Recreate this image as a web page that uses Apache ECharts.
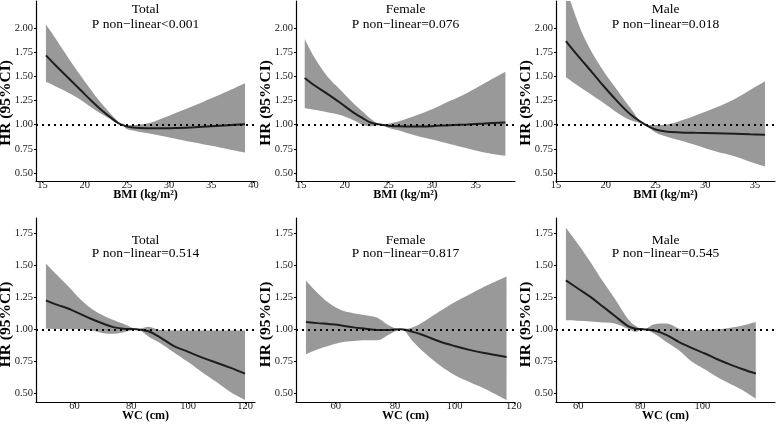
<!DOCTYPE html>
<html><head><meta charset="utf-8">
<script src="https://cdn.jsdelivr.net/npm/echarts@6/dist/echarts.min.js"></script>
<style>html,body{margin:0;padding:0;background:#fff}#c{width:777px;height:429px}</style>
</head><body><div id="c"></div>
<script>
// ---------- DATA ----------
// BMI – Total
const bmiTotalX     = [15.4, 16.5, 18, 19.5, 21, 22, 23, 24, 24.4, 25, 26, 27.5, 29, 31, 33, 35, 37, 39];
const bmiTotalHR    = [1.72, 1.62, 1.49, 1.36, 1.23, 1.15, 1.08, 1.015, 1.00, 0.982, 0.968, 0.963, 0.962, 0.966, 0.973, 0.983, 0.994, 1.005];
const bmiTotalUpper = [2.04, 1.90, 1.70, 1.51, 1.33, 1.22, 1.12, 1.03, 1.00, 0.995, 0.998, 1.015, 1.06, 1.13, 1.20, 1.275, 1.35, 1.43];
const bmiTotalLower = [1.445, 1.40, 1.335, 1.26, 1.165, 1.11, 1.06, 1.005, 1.00, 0.955, 0.935, 0.91, 0.885, 0.85, 0.815, 0.78, 0.745, 0.71];
// BMI – Female
const bmiFemaleX     = [15.4, 16.5, 18, 19.5, 21, 22, 23, 24.2, 25, 26, 28, 30, 32, 34, 36, 38.4];
const bmiFemaleHR    = [1.486, 1.41, 1.32, 1.225, 1.125, 1.07, 1.02, 1.0, 0.99, 0.983, 0.98, 0.985, 0.995, 1.003, 1.012, 1.024];
const bmiFemaleUpper = [1.89, 1.70, 1.50, 1.36, 1.22, 1.14, 1.06, 1.0, 1.01, 1.03, 1.09, 1.16, 1.245, 1.33, 1.43, 1.55];
const bmiFemaleLower = [1.17, 1.155, 1.13, 1.10, 1.045, 1.0, 0.985, 1.0, 0.965, 0.945, 0.89, 0.845, 0.80, 0.755, 0.71, 0.675];
// BMI – Male
const bmiMaleX     = [16, 17, 18, 19.5, 21, 22.5, 24, 25, 26, 27.5, 29, 31, 33, 34.5, 36];
const bmiMaleHR    = [1.868, 1.74, 1.62, 1.435, 1.26, 1.105, 0.998, 0.95, 0.93, 0.92, 0.915, 0.91, 0.905, 0.90, 0.896];
const bmiMaleUpper = [2.42, 2.12, 1.87, 1.60, 1.38, 1.17, 1.0, 0.998, 1.0, 1.04, 1.095, 1.175, 1.27, 1.36, 1.45];
const bmiMaleLower = [1.493, 1.42, 1.35, 1.245, 1.135, 1.045, 0.995, 0.92, 0.88, 0.835, 0.79, 0.725, 0.67, 0.615, 0.566];
// WC – Total
const wcTotalX     = [50, 54, 58, 62, 66, 70, 74, 78, 82, 86, 90, 95, 100, 105, 110, 115, 120];
const wcTotalHR    = [1.225, 1.19, 1.16, 1.12, 1.08, 1.045, 1.015, 1.003, 1.0, 0.985, 0.94, 0.87, 0.825, 0.78, 0.74, 0.70, 0.655];
const wcTotalUpper = [1.51, 1.42, 1.33, 1.235, 1.16, 1.11, 1.07, 1.035, 1.0, 1.02, 0.995, 0.99, 0.99, 0.99, 0.99, 0.99, 0.99];
const wcTotalLower = [1.005, 1.003, 1.0, 1.0, 0.99, 0.97, 0.965, 0.98, 1.0, 0.945, 0.895, 0.82, 0.745, 0.665, 0.59, 0.51, 0.45];
// WC – Female
const wcFemaleX     = [50, 54, 58, 62, 66, 70, 74, 78, 82, 86, 90, 95, 100, 105, 110, 117.5];
const wcFemaleHR    = [1.057, 1.048, 1.04, 1.03, 1.015, 1.005, 0.995, 0.995, 1.0, 0.98, 0.95, 0.905, 0.87, 0.84, 0.815, 0.785];
const wcFemaleUpper = [1.38, 1.28, 1.20, 1.148, 1.125, 1.11, 1.09, 1.03, 1.0, 1.015, 1.065, 1.14, 1.21, 1.27, 1.33, 1.41];
const wcFemaleLower = [0.806, 0.845, 0.875, 0.90, 0.91, 0.915, 0.915, 0.96, 1.0, 0.905, 0.815, 0.72, 0.645, 0.59, 0.54, 0.45];
// WC – Male
const wcMaleX     = [56, 60, 64, 68, 72, 76, 78.5, 81, 84.5, 88.5, 92.5, 96.5, 101, 105, 109, 113, 117.2];
const wcMaleHR    = [1.38, 1.315, 1.25, 1.175, 1.10, 1.025, 1.005, 1.0, 0.99, 0.955, 0.90, 0.855, 0.81, 0.765, 0.725, 0.69, 0.656];
const wcMaleUpper = [1.79, 1.66, 1.52, 1.37, 1.23, 1.08, 1.025, 1.0, 1.04, 1.045, 1.005, 0.992, 0.995, 1.0, 1.012, 1.03, 1.057];
const wcMaleLower = [1.07, 1.066, 1.06, 1.052, 1.044, 1.005, 0.98, 1.0, 0.965, 0.90, 0.835, 0.75, 0.685, 0.625, 0.575, 0.526, 0.46];

// Tick labels
const bmiTicksTotal  = [15, 20, 25, 30, 35, 40];
const bmiTicksFemale = [15, 20, 25, 30, 35];
const bmiTicksMale   = [15, 20, 25, 30, 35];
const wcTicksTotal   = [60, 80, 100, 120];
const wcTicksFemale  = [60, 80, 100, 120];
const wcTicksMale    = [60, 80, 100];
const hrTicksTop     = [0.50, 0.75, 1.00, 1.25, 1.50, 1.75, 2.00];
const hrTicksBottom  = [0.50, 0.75, 1.00, 1.25, 1.50, 1.75];
const groupNames     = ['Total', 'Female', 'Male', 'Total', 'Female', 'Male'];
const pTexts         = ['P non−linear<0.001', 'P non−linear=0.076', 'P non−linear=0.018',
                        'P non−linear=0.514', 'P non−linear=0.817', 'P non−linear=0.545'];
const xTitles        = ['BMI (kg/m²)', 'BMI (kg/m²)', 'BMI (kg/m²)', 'WC (cm)', 'WC (cm)', 'WC (cm)'];
const yTitle         = 'HR (95%CI)';
const refHR          = 1;

// ---------- LAYOUT ----------
const panelData = [
  {x: bmiTotalX,  hr: bmiTotalHR,  hi: bmiTotalUpper,  lo: bmiTotalLower,  xt: bmiTicksTotal,  yt: hrTicksTop},
  {x: bmiFemaleX, hr: bmiFemaleHR, hi: bmiFemaleUpper, lo: bmiFemaleLower, xt: bmiTicksFemale, yt: hrTicksTop},
  {x: bmiMaleX,   hr: bmiMaleHR,   hi: bmiMaleUpper,   lo: bmiMaleLower,   xt: bmiTicksMale,   yt: hrTicksTop},
  {x: wcTotalX,   hr: wcTotalHR,   hi: wcTotalUpper,   lo: wcTotalLower,   xt: wcTicksTotal,   yt: hrTicksBottom},
  {x: wcFemaleX,  hr: wcFemaleHR,  hi: wcFemaleUpper,  lo: wcFemaleLower,  xt: wcTicksFemale,  yt: hrTicksBottom},
  {x: wcMaleX,    hr: wcMaleHR,    hi: wcMaleUpper,    lo: wcMaleLower,    xt: wcTicksMale,    yt: hrTicksBottom}
];
const layout = [
  {left: 36,  top: 1,   width: 219, height: 180, xr: [14.22, 40.18], yr: [0.415, 2.285]},
  {left: 296, top: 1,   width: 219, height: 180, xr: [14.4, 39.5],   yr: [0.415, 2.285]},
  {left: 556, top: 1,   width: 219, height: 180, xr: [15, 37],       yr: [0.415, 2.285]},
  {left: 36,  top: 218, width: 219, height: 184, xr: [46.5, 123.5],  yr: [0.435, 1.865]},
  {left: 296, top: 218, width: 219, height: 184, xr: [46.65, 120.35],yr: [0.435, 1.865]},
  {left: 556, top: 218, width: 219, height: 184, xr: [52.8, 123.4],  yr: [0.435, 1.865]}
];
const FONT = "'Liberation Serif', 'Times New Roman', serif";
const SMOOTH = 0.35;

const grids = [], xAxes = [], yAxes = [], series = [], graphics = [];
panelData.forEach((p, i) => {
  const L = layout[i];
  grids.push({left: L.left, top: L.top, width: L.width, height: L.height, containLabel: false, outerBoundsMode: 'none'});
  xAxes.push({
    type: 'value', gridIndex: i, min: L.xr[0], max: L.xr[1], z: 10,
    splitLine: {show: false},
    axisLine: {show: true, onZero: false, lineStyle: {color: '#000', width: 1.2}},
    axisTick: {show: true, length: 2, customValues: p.xt, lineStyle: {color: '#000'}},
    axisLabel: {customValues: p.xt, margin: -1, fontFamily: FONT, fontSize: 10.5, color: '#1a1a1a'},
    name: xTitles[i], nameLocation: 'middle', nameGap: 7.5, nameMoveOverlap: false,
    nameTextStyle: {fontFamily: FONT, fontSize: 12, fontWeight: 'bold', color: '#000', verticalAlign: 'top'}
  });
  yAxes.push({
    type: 'value', gridIndex: i, min: L.yr[0], max: L.yr[1], z: 10,
    splitLine: {show: false},
    axisLine: {show: true, onZero: false, lineStyle: {color: '#000', width: 1.2}},
    axisTick: {show: true, length: 2, customValues: p.yt, lineStyle: {color: '#000'}},
    axisLabel: {customValues: p.yt, margin: 3, fontFamily: FONT, fontSize: 10.5, color: '#1a1a1a',
      formatter: v => v.toFixed(2)}
  });
  // CI band: lower bound + (upper - lower) stacked on it. Column 0 = HR value (stacked), column 1 = x.
  series.push({
    type: 'line', xAxisIndex: i, yAxisIndex: i, stack: 'band' + i, smooth: SMOOTH, z: 2,
    encode: {x: 1, y: 0},
    symbol: 'none', silent: true, lineStyle: {width: 0, opacity: 0},
    data: p.x.map((v, k) => [p.lo[k], v])
  });
  series.push({
    type: 'line', xAxisIndex: i, yAxisIndex: i, stack: 'band' + i, smooth: SMOOTH, z: 2,
    encode: {x: 1, y: 0},
    symbol: 'none', silent: true, lineStyle: {width: 0, opacity: 0},
    areaStyle: {color: '#999999', opacity: 1},
    data: p.x.map((v, k) => [p.hi[k] - p.lo[k], v])
  });
  // HR curve + reference line
  series.push({
    type: 'line', xAxisIndex: i, yAxisIndex: i, smooth: SMOOTH, z: 5,
    symbol: 'none', silent: true, lineStyle: {color: '#1e1e1e', width: 2},
    data: p.x.map((v, k) => [v, p.hr[k]]),
    markLine: {
      silent: true, symbol: 'none', animation: false, label: {show: false}, z: 6,
      lineStyle: {type: [2, 4], color: '#000', width: 2, cap: 'butt'},
      data: [{yAxis: refHR}]
    }
  });
  const cx = L.left + L.width / 2;
  const topRow = i < 3;
  graphics.push({type: 'text', x: cx, y: topRow ? 9.5 : 240, z: 10,
    style: {text: groupNames[i], align: 'center', verticalAlign: 'middle', font: '13.5px ' + FONT, fill: '#000'}});
  graphics.push({type: 'text', x: cx, y: topRow ? 24 : 253.5, z: 10,
    style: {text: pTexts[i], align: 'center', verticalAlign: 'middle', font: '13.5px ' + FONT, fill: '#000'}});
  graphics.push({type: 'text', x: L.left - 30, y: topRow ? 103 : 324.5, rotation: Math.PI / 2, z: 10,
    style: {text: yTitle, align: 'center', verticalAlign: 'middle', font: 'bold 15.5px ' + FONT, fill: '#000'}});
});

const chart = echarts.init(document.getElementById('c'), null, {renderer: 'canvas'});
chart.setOption({
  animation: false,
  backgroundColor: '#fff',
  grid: grids, xAxis: xAxes, yAxis: yAxes, series: series, graphic: graphics
});
</script>
</body></html>
